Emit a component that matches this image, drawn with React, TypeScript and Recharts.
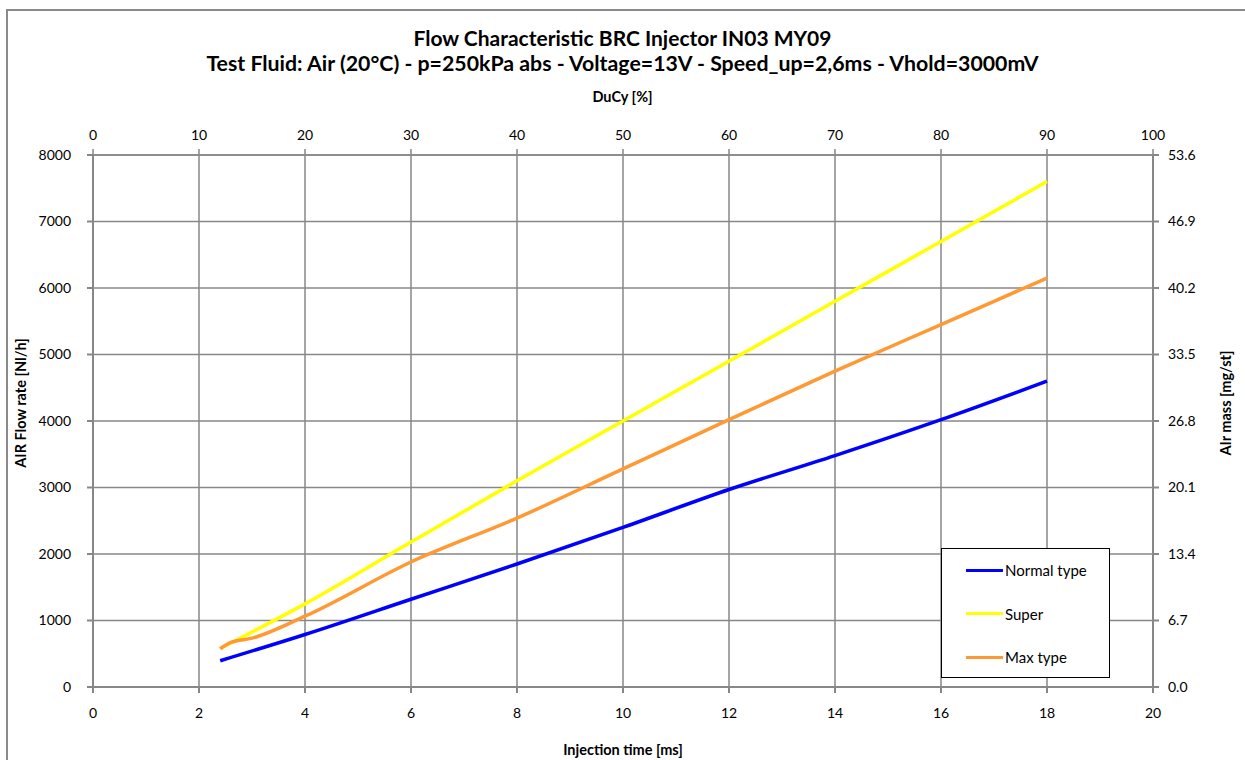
import { CartesianGrid, Line, LineChart, XAxis, YAxis } from "recharts";

// injection time [ms] for each measured point
const normalTime = [2.4, 4, 6, 8, 10, 12, 14, 16, 18];
const normalFlow = [395, 790, 1320, 1850, 2400, 2970, 3480, 4020, 4600];

const superTime = [2.4, 4, 6, 8, 10, 12, 14, 16, 18];
const superFlow = [580, 1250, 2180, 3100, 4000, 4900, 5800, 6700, 7600];

const maxTime = [2.4, 2.6, 3, 4, 6, 8, 10, 12, 14, 16, 18];
const maxFlow = [575, 670, 735, 1065, 1880, 2540, 3280, 4020, 4750, 5450, 6150];

const timeTicks = [0, 2, 4, 6, 8, 10, 12, 14, 16, 18, 20];
const ducyTicks = [0, 10, 20, 30, 40, 50, 60, 70, 80, 90, 100];
const flowTicks = [0, 1000, 2000, 3000, 4000, 5000, 6000, 7000, 8000];
const massTicks = [0, 6.7, 13.4, 20.1, 26.8, 33.5, 40.2, 46.9, 53.6];

// 20 ms period -> 100 % duty cycle, 8000 Nl/h -> 53.6 mg/st
const PERIOD_MS = 20;
const MASS_PER_FLOW = 53.6 / 8000;

const series = [
  { name: "Normal type", color: "#0000ff", time: normalTime, flow: normalFlow },
  { name: "Super", color: "#ffff00", time: superTime, flow: superFlow },
  { name: "Max type", color: "#ff9933", time: maxTime, flow: maxFlow },
];

// secondary-axis view of the normal series, drawn invisibly so the top/right axes exist
const secondaryData = normalTime.map((t, i) => ({
  ducy: (t / PERIOD_MS) * 100,
  mass: normalFlow[i] * MASS_PER_FLOW,
}));

const FONT = "Lato, 'Open Sans', sans-serif";
const GRID = "#878787";
const tick = { fill: "#000", fontSize: 14, fontFamily: FONT };

function LegendBox() {
  return (
    <div
      style={{
        position: "absolute",
        left: 941,
        top: 548,
        width: 169,
        height: 130,
        border: "1px solid #000",
        background: "#fff",
        fontSize: 15,
        boxSizing: "border-box",
        paddingTop: 11,
      }}
    >
      {series.map((s) => (
        <div key={s.name} style={{ display: "flex", alignItems: "center", height: 20, marginBottom: 23.5 }}>
          <span style={{ display: "inline-block", marginLeft: 24, width: 37, height: 3, background: s.color }} />
          <span style={{ marginLeft: 2 }}>{s.name}</span>
        </div>
      ))}
    </div>
  );
}

const bold = { fontWeight: 700 } as const;

export default function App() {
  return (
    <div style={{ position: "absolute", left: 0, top: 0, width: 1245, height: 760, background: "#fff", overflow: "hidden", fontFamily: FONT }}>
      <div style={{ position: "absolute", left: 6, top: 9, width: 1400, height: 900, borderTop: "2px solid #8a8a8a", borderLeft: "2px solid #8a8a8a" }} />
      <div style={{ position: "absolute", left: 0, width: 1245, top: 25, textAlign: "center", fontSize: 21, ...bold }}>
        Flow Characteristic BRC Injector IN03 MY09
      </div>
      <div style={{ position: "absolute", left: 0, width: 1245, top: 50, textAlign: "center", fontSize: 21.3, ...bold }}>
        Test Fluid: Air (20°C) - p=250kPa abs - Voltage=13V - Speed_up=2,6ms - Vhold=3000mV
      </div>
      <div style={{ position: "absolute", left: 0, width: 1245, top: 88, textAlign: "center", fontSize: 14.5, ...bold }}>
        DuCy [%]
      </div>
      <div style={{ position: "absolute", left: 93, width: 1060, top: 741, textAlign: "center", fontSize: 14.5, ...bold }}>
        Injection time [ms]
      </div>
      <div style={{ position: "absolute", left: 20, top: 403, width: 0, height: 0 }}>
        <div style={{ position: "absolute", transform: "translate(-50%, -50%) rotate(-90deg)", whiteSpace: "nowrap", fontSize: 14.5, ...bold }}>
          AIR Flow rate [Nl/h]
        </div>
      </div>
      <div style={{ position: "absolute", left: 1225, top: 403, width: 0, height: 0 }}>
        <div style={{ position: "absolute", transform: "translate(-50%, -50%) rotate(-90deg)", whiteSpace: "nowrap", fontSize: 14.5, ...bold }}>
          AIr mass [mg/st]
        </div>
      </div>
      <div style={{ position: "absolute", left: 0, top: 0 }}>
        <LineChart width={1245} height={760} margin={{ top: 115, right: 32, bottom: 43, left: 23 }}>
          <CartesianGrid xAxisId="bottom" yAxisId="left" stroke={GRID} strokeWidth={1.5} />
          <XAxis
            xAxisId="bottom"
            type="number"
            dataKey="x"
            domain={[0, 20]}
            ticks={timeTicks}
            tick={tick}
            height={30}
            stroke={GRID}
            strokeWidth={2}
            tickSize={6}
            tickMargin={15}
            allowDataOverflow
          />
          <XAxis
            xAxisId="top"
            orientation="top"
            type="number"
            dataKey="ducy"
            domain={[0, 100]}
            ticks={ducyTicks}
            tick={tick}
            height={40}
            stroke={GRID}
            strokeWidth={1.5}
            tickSize={6}
            tickMargin={9}
            allowDataOverflow
          />
          <YAxis
            yAxisId="left"
            type="number"
            domain={[0, 8000]}
            ticks={flowTicks}
            tick={tick}
            width={70}
            stroke={GRID}
            strokeWidth={2}
            tickSize={6}
            tickMargin={16}
          />
          <YAxis
            yAxisId="right"
            orientation="right"
            type="number"
            domain={[0, 53.6]}
            ticks={massTicks}
            tickFormatter={(v: number) => v.toFixed(1)}
            tick={tick}
            width={60}
            stroke={GRID}
            strokeWidth={2}
            tickSize={6}
            tickMargin={9}
            allowDataOverflow
          />
          <Line
            xAxisId="top"
            yAxisId="right"
            data={secondaryData}
            dataKey="mass"
            stroke="none"
            dot={false}
            activeDot={false}
            isAnimationActive={false}
            legendType="none"
          />
          {series.map((s) => (
            <Line
              key={s.name}
              xAxisId="bottom"
              yAxisId="left"
              name={s.name}
              data={s.time.map((t, i) => ({ x: t, y: s.flow[i] }))}
              dataKey="y"
              type="monotone"
              stroke={s.color}
              strokeWidth={3.5}
              dot={false}
              isAnimationActive={false}
            />
          ))}
        </LineChart>
      </div>
      <LegendBox />
    </div>
  );
}
